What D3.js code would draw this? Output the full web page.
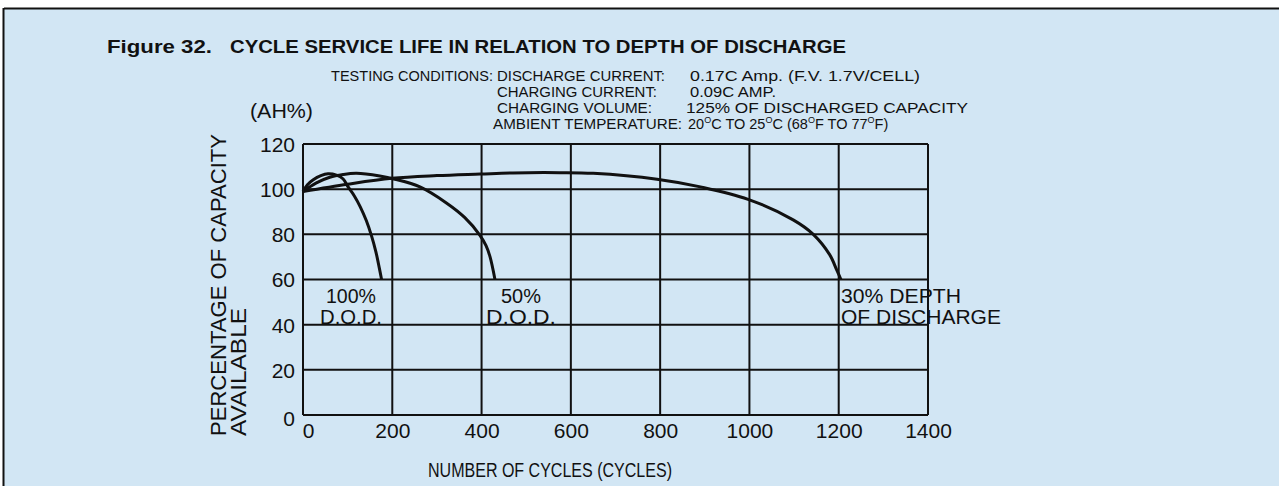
<!DOCTYPE html>
<html>
<head>
<meta charset="utf-8">
<script src="https://cdn.jsdelivr.net/npm/d3@7"></script>
<style>
  html, body { margin: 0; padding: 0; background: #ffffff; }
  svg { display: block; }
  text { font-family: "Liberation Sans", Arial, Helvetica, sans-serif; fill: #111; }
</style>
</head>
<body>
<svg id="chart" width="1279" height="486"></svg>
<script>
// Cycle counts along the x axis and capacity (AH%) for each depth of discharge
const xTicks = [0, 200, 400, 600, 800, 1000, 1200, 1400];
const yTicks = [0, 20, 40, 60, 80, 100, 120];

const dod100Cycles = [0, 10, 23, 40, 56, 75, 90, 101, 115, 128, 142, 154, 163, 169, 176];
const dod100Cap    = [99, 102, 104.2, 106, 106.8, 106.2, 104.5, 101, 97, 92.3, 86, 79, 72.5, 67, 60];

const dod50Cycles = [0, 30, 60, 90, 120, 172, 206, 262, 322, 362, 396, 410, 419, 430];
const dod50Cap    = [99, 102.8, 105.3, 106.5, 107, 105.8, 104.4, 101, 93.8, 87.5, 79.7, 75, 70, 60];

const dod30Cycles = [0, 100, 199, 300, 397, 470, 575, 650, 793, 896, 997, 1098, 1143, 1180, 1196, 1205];
const dod30Cap    = [99, 102.2, 104.8, 106, 106.7, 107.2, 107.3, 107, 104.4, 100.8, 95.5, 86.4, 80, 70.9, 64, 60];

const seriesLabels = [
  { lines: ["100%", "D.O.D."], cx: 351, w: [50, 62] },
  { lines: ["50%", "D.O.D."], cx: 521, w: [40, 70] },
  { lines: ["30% DEPTH", "OF DISCHARGE"], x: 841, w: [120, 160] }
];

const svg = d3.select("#chart");
const W = 1279, H = 486;

// panel background with its dark top and left edges
svg.append("rect").attr("x", 4).attr("y", 9).attr("width", W - 4).attr("height", H - 9)
  .attr("fill", "#d2e6f4");
svg.append("line").attr("x1", 4).attr("x2", W).attr("y1", 8.5).attr("y2", 8.5)
  .attr("stroke", "#111").attr("stroke-width", 2);
svg.append("line").attr("x1", 3.5).attr("x2", 3.5).attr("y1", 8).attr("y2", H)
  .attr("stroke", "#111").attr("stroke-width", 2);

// title
svg.append("text").attr("x", 107).attr("y", 53)
  .attr("font-size", 18).attr("font-weight", "bold")
  .attr("textLength", 105).attr("lengthAdjust", "spacingAndGlyphs")
  .text("Figure 32.");
svg.append("text").attr("x", 230).attr("y", 53)
  .attr("font-size", 18).attr("font-weight", "bold")
  .attr("textLength", 616).attr("lengthAdjust", "spacingAndGlyphs")
  .text("CYCLE SERVICE LIFE IN RELATION TO DEPTH OF DISCHARGE");

// testing conditions block
const cond = svg.append("g").attr("font-size", 14.5);
cond.append("text").attr("x", 493).attr("y", 81).attr("text-anchor", "end").text("TESTING CONDITIONS:");
const condRows = [
  { k: "DISCHARGE CURRENT:", kx: 497, kw: 168, v: "0.17C Amp. (F.V. 1.7V/CELL)", vx: 690, vw: 230, y: 81 },
  { k: "CHARGING CURRENT:", kx: 497, kw: 160, v: "0.09C AMP.", vx: 690, vw: 86, y: 97 },
  { k: "CHARGING VOLUME:", kx: 497, kw: 155, v: "125% OF DISCHARGED CAPACITY", vx: 686, vw: 282, y: 113 }
];
condRows.forEach(r => {
  cond.append("text").attr("x", r.kx).attr("y", r.y)
    .attr("textLength", r.kw).attr("lengthAdjust", "spacingAndGlyphs").text(r.k);
  cond.append("text").attr("x", r.vx).attr("y", r.y)
    .attr("textLength", r.vw).attr("lengthAdjust", "spacingAndGlyphs").text(r.v);
});
cond.append("text").attr("x", 493).attr("y", 129)
  .attr("textLength", 189).attr("lengthAdjust", "spacingAndGlyphs").text("AMBIENT TEMPERATURE:");

// temperature range with raised degree marks
const temp = cond.append("text").attr("x", 688).attr("y", 129);
const tempParts = [["20", false], ["O", true], ["C TO 25", false], ["O", true], ["C (68", false], ["O", true], ["F TO 77", false], ["O", true], ["F)", false]];
tempParts.forEach(([t, sup], i) => {
  const prevSup = i > 0 && tempParts[i - 1][1];
  temp.append("tspan").text(t)
    .attr("font-size", sup ? 9 : null)
    .attr("dy", sup ? -6 : (prevSup ? 6 : 0));
});

// plot scales
const x = d3.scaleLinear().domain([0, 1400]).range([303, 928]);
const y = d3.scaleLinear().domain([0, 120]).range([415, 144]);

// grid
const grid = svg.append("g").attr("stroke", "#111").attr("stroke-width", 2);
grid.selectAll("line.v").data(xTicks).join("line")
  .attr("x1", d => x(d)).attr("x2", d => x(d)).attr("y1", y(0)).attr("y2", y(120));
grid.selectAll("line.h").data(yTicks).join("line")
  .attr("x1", x(0)).attr("x2", x(1400)).attr("y1", d => y(d)).attr("y2", d => y(d));

// axes labels via d3 axes, domain paths and tick marks hidden
const yAxis = svg.append("g").attr("transform", `translate(${x(0) - 8},0)`)
  .call(d3.axisLeft(y).tickValues(yTicks).tickFormat(d3.format("d")).tickSize(0).tickPadding(0));
yAxis.select(".domain").remove();
yAxis.selectAll("text").attr("font-size", 21).attr("font-family", null).attr("fill", "#111")
  .attr("dy", d => d === 0 ? "0.5em" : "0.35em");

const xAxis = svg.append("g").attr("transform", `translate(0,${y(0) + 8})`)
  .call(d3.axisBottom(x).tickValues(xTicks).tickFormat(d3.format("d")).tickSize(0).tickPadding(0));
xAxis.select(".domain").remove();
xAxis.selectAll("text").attr("font-size", 21).attr("font-family", null).attr("fill", "#111")
  .attr("dx", d => d === 0 ? 5 : 0);

// axis titles
svg.append("text").attr("x", 250).attr("y", 118).attr("font-size", 21)
  .attr("textLength", 63).attr("lengthAdjust", "spacingAndGlyphs").text("(AH%)");
svg.append("text").attr("transform", "translate(226,436) rotate(-90)")
  .attr("font-size", 22).attr("textLength", 302).attr("lengthAdjust", "spacingAndGlyphs")
  .text("PERCENTAGE OF CAPACITY");
svg.append("text").attr("transform", "translate(246,436) rotate(-90)")
  .attr("font-size", 22).attr("textLength", 128).attr("lengthAdjust", "spacingAndGlyphs")
  .text("AVAILABLE");
svg.append("text").attr("x", 428).attr("y", 477)
  .attr("font-size", 20.5).attr("textLength", 244).attr("lengthAdjust", "spacingAndGlyphs")
  .text("NUMBER OF CYCLES (CYCLES)");

// curves
const line = d3.line().x(d => x(d[0])).y(d => y(d[1])).curve(d3.curveCatmullRom.alpha(0.5));
const series = [
  d3.zip(dod100Cycles, dod100Cap),
  d3.zip(dod50Cycles, dod50Cap),
  d3.zip(dod30Cycles, dod30Cap)
];
svg.append("g").selectAll("path").data(series).join("path")
  .attr("d", line).attr("fill", "none").attr("stroke", "#111").attr("stroke-width", 3)
  .attr("stroke-linejoin", "round");

// curve labels
const lab = svg.append("g").attr("font-size", 20);
seriesLabels.forEach(s => {
  s.lines.forEach((t, i) => {
    const tx = lab.append("text").attr("y", 303 + i * 21)
      .attr("textLength", s.w[i]).attr("lengthAdjust", "spacingAndGlyphs").text(t);
    if (s.cx !== undefined) tx.attr("x", s.cx).attr("text-anchor", "middle");
    else tx.attr("x", s.x);
  });
});
</script>
</body>
</html>
